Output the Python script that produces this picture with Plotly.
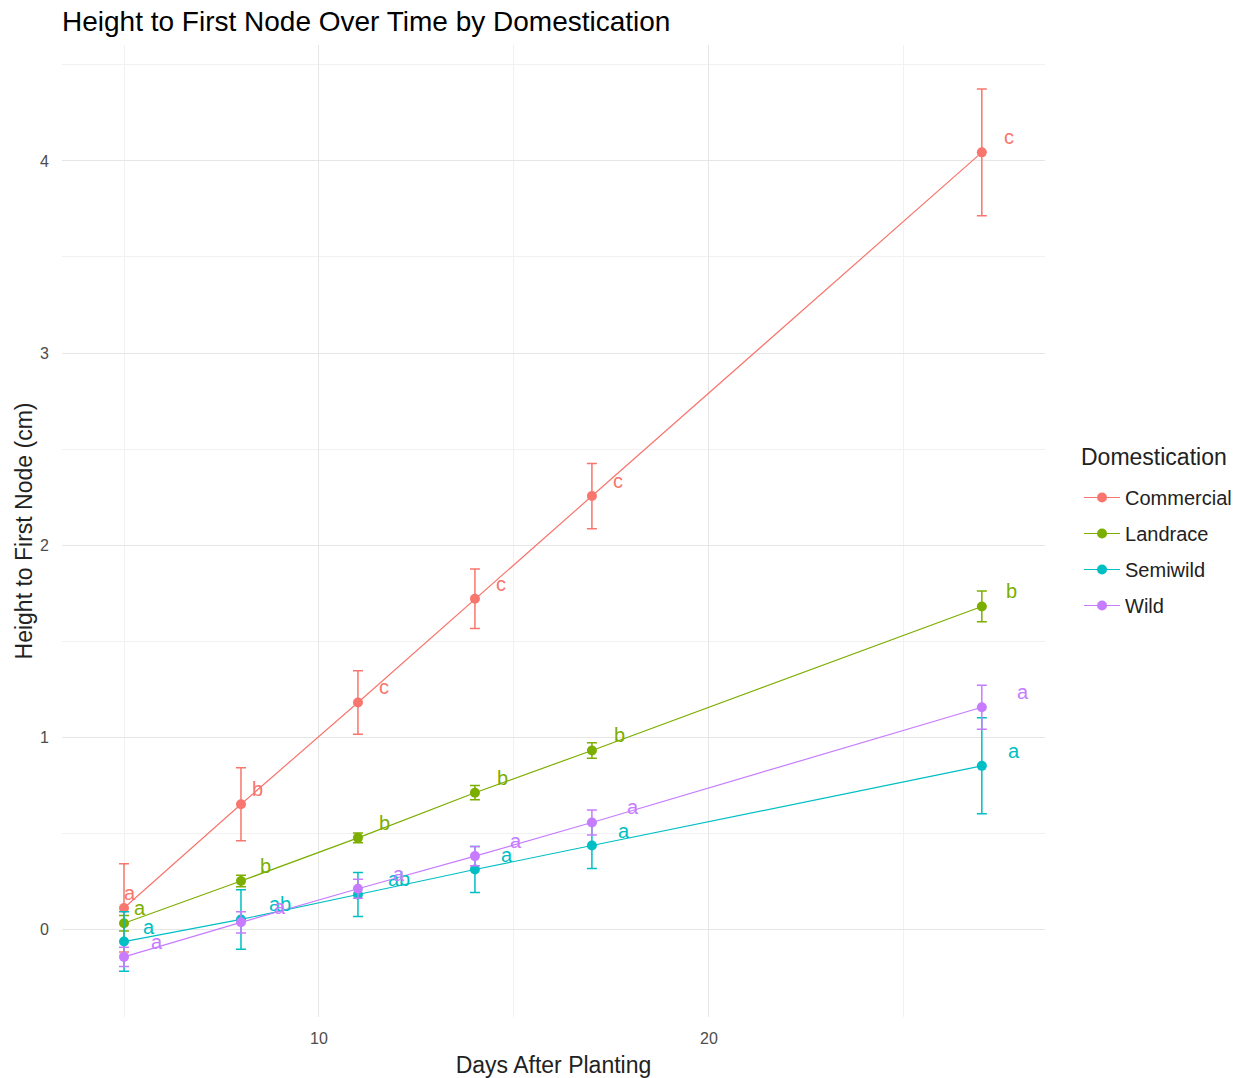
import plotly.graph_objects as go

# Days after planting at which plants were measured
days = [5, 8, 11, 14, 17, 27]

# Mean height to first node (cm) and standard error per domestication group
commercial_mean = [0.11, 0.65, 1.18, 1.72, 2.255, 4.045]
commercial_se = [0.23, 0.19, 0.165, 0.155, 0.17, 0.33]
commercial_letters = ["a", "b", "c", "c", "c", "c"]

landrace_mean = [0.03, 0.25, 0.475, 0.71, 0.93, 1.68]
landrace_se = [0.04, 0.03, 0.025, 0.037, 0.04, 0.08]
landrace_letters = ["a", "b", "b", "b", "b", "b"]

semiwild_mean = [-0.065, 0.05, 0.18, 0.31, 0.435, 0.85]
semiwild_se = [0.155, 0.155, 0.115, 0.12, 0.12, 0.25]
semiwild_letters = ["a", "ab", "ab", "a", "a", "a"]

wild_mean = [-0.145, 0.035, 0.21, 0.38, 0.555, 1.155]
wild_se = [0.05, 0.055, 0.05, 0.05, 0.065, 0.115]
wild_letters = ["a", "a", "a", "a", "a", "a"]

groups = ["Commercial", "Landrace", "Semiwild", "Wild"]
means = [commercial_mean, landrace_mean, semiwild_mean, wild_mean]
ses = [commercial_se, landrace_se, semiwild_se, wild_se]
letters = [commercial_letters, landrace_letters, semiwild_letters, wild_letters]

# ggplot2 default hue palette
colors = ["#F8766D", "#7CAE00", "#00BFC4", "#C77CFF"]

# Horizontal pixel offsets of the significance letters, per group
letter_xshift = [
    [6, 17, 26, 26, 26, 27],
    [16, 25, 27, 28, 28, 30],
    [25, 39, 41, 32, 32, 32],
    [33, 39, 41, 41, 41, 41],
]
letter_yshift = 15

FONT = "Liberation Sans, Arial, sans-serif"
W, H = 1244, 1078

fig = go.Figure()

for name, m, s, col in zip(groups, means, ses, colors):
    fig.add_trace(go.Scatter(
        x=days, y=m, name=name, mode="lines+markers",
        legendgroup=name,
        line=dict(color=col, width=1.2),
        marker=dict(color=col, size=10),
        error_y=dict(type="data", array=s, visible=True,
                     color=col, thickness=1.5, width=5),
    ))

annotations = []
for m, lab, col, shifts in zip(means, letters, colors, letter_xshift):
    for xv, yv, t, dx in zip(days, m, lab, shifts):
        annotations.append(dict(
            x=xv, y=yv, xref="x", yref="y", text=t, showarrow=False,
            xshift=dx, yshift=letter_yshift,
            font=dict(family=FONT, size=20, color=col),
            xanchor="center", yanchor="middle",
        ))

# Legend heading, placed on its own above the legend entries
annotations.append(dict(
    text="Domestication", showarrow=False,
    xref="paper", yref="paper",
    x=(1079 - 62) / 983, y=(1017 - 457) / 972,
    xanchor="left", yanchor="middle",
    font=dict(family=FONT, size=23, color="#222222"),
))

fig.update_layout(
    width=W, height=H,
    margin=dict(l=62, r=199, t=45, b=61, autoexpand=False),
    paper_bgcolor="white", plot_bgcolor="white",
    font=dict(family=FONT, color="#222222"),
    title=dict(
        text="Height to First Node Over Time by Domestication",
        x=62 / W, xref="container", xanchor="left",
        y=1 - 21 / H, yref="container", yanchor="middle",
        font=dict(family=FONT, size=28, color="black"),
    ),
    legend=dict(
        font=dict(family=FONT, size=20, color="#222222"),
        x=1.0346, xanchor="left", y=(1017 - 478) / 972, yanchor="top",
        traceorder="grouped", tracegroupgap=7, itemwidth=36,
        bgcolor="rgba(0,0,0,0)",
    ),
    annotations=annotations,
    showlegend=True,
)

fig.update_xaxes(
    range=[3.41, 28.62], tick0=0, dtick=10, automargin=False,
    showgrid=True, gridcolor="#e6e6e6", gridwidth=1.3,
    minor=dict(dtick=5, tick0=0, showgrid=True, gridcolor="#f1f1f1", gridwidth=1),
    zeroline=False, showline=False, ticks="",
    tickfont=dict(family=FONT, size=16, color="#4d4d4d"),
    ticklabelstandoff=10,
    title=dict(text="Days After Planting", font=dict(family=FONT, size=23, color="#222222"),
               standoff=12),
)
fig.update_yaxes(
    range=[-0.458, 4.604], tick0=0, dtick=1, automargin=False,
    showgrid=True, gridcolor="#e6e6e6", gridwidth=1.3,
    minor=dict(dtick=0.5, tick0=0, showgrid=True, gridcolor="#f1f1f1", gridwidth=1),
    zeroline=False, showline=False, ticks="",
    tickfont=dict(family=FONT, size=16, color="#4d4d4d"),
    ticklabelstandoff=12,
    title=dict(text="Height to First Node (cm)", font=dict(family=FONT, size=23, color="#222222"),
               standoff=1),
)

fig.write_html("out.html")
